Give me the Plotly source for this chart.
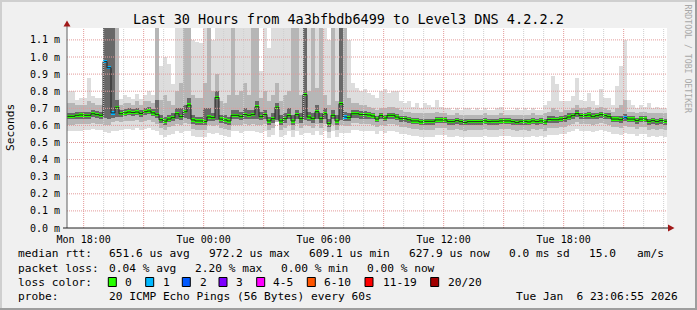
import plotly.graph_objects as go
import pandas as pd

# ---------------- data (ms), one value per 12-minute column ----------------
med = [0.653, 0.653, 0.659, 0.661, 0.659, 0.659, 0.668, 0.663, 0.659,
       0.973, 0.937, 0.673, 0.706,
       0.668, 0.673, 0.678, 0.675, 0.678, 0.670, 0.680, 0.684, 0.673,
       0.665,
       0.633, 0.625, 0.637, 0.645, 0.668, 0.651, 0.680, 0.719, 0.632, 0.626, 0.626, 0.622, 0.649, 0.645,
       0.764,
       0.637, 0.632, 0.626, 0.659, 0.659, 0.651, 0.663, 0.659, 0.663, 0.709,
       0.651, 0.663, 0.626, 0.639, 0.706, 0.626, 0.639, 0.657, 0.626, 0.663,
       0.639, 0.780, 0.649, 0.639, 0.680, 0.639, 0.668, 0.610, 0.659, 0.626,
       0.727, 0.649, 0.645, 0.668, 0.668, 0.663, 0.663,
       0.661, 0.655, 0.637, 0.657, 0.643, 0.659, 0.659, 0.649, 0.639, 0.639,
       0.633, 0.626, 0.626, 0.620, 0.624, 0.624, 0.624, 0.632, 0.632, 0.632,
       0.622, 0.622, 0.628, 0.622, 0.616, 0.622, 0.622, 0.622, 0.622, 0.626,
       0.622, 0.624, 0.624, 0.626, 0.626, 0.626, 0.622,
       0.616, 0.624, 0.624, 0.620, 0.626, 0.622, 0.626, 0.620, 0.635, 0.633,
       0.633, 0.637, 0.641, 0.649, 0.657, 0.669, 0.657, 0.657, 0.661, 0.651,
       0.657, 0.663, 0.657, 0.651, 0.637, 0.637, 0.633, 0.645, 0.637, 0.637,
       0.628, 0.637, 0.637, 0.624, 0.628, 0.622, 0.628, 0.624]

hi1 = [0.80, 0.80, 0.75, 0.76, 0.76, 0.88, 0.77, 0.76, 0.76,
       1.3, 1.3, 1.3, 1.3,
       0.755, 0.78, 0.766, 0.757, 0.785, 0.757, 0.78, 0.80, 0.78,
       1.3,
       0.95, 1.0, 0.96, 0.84, 1.3, 1.3, 1.3, 1.3, 1.1, 1.09, 1.08, 1.3, 1.3, 1.1,
       1.3,
       1.3, 1.3, 1.3, 1.3, 1.3, 1.3, 1.3, 1.3, 1.3, 1.3,
       0.92, 1.3, 1.05,
       1.3, 1.3, 1.3, 1.3, 1.3, 1.3, 1.3, 1.3, 1.3, 1.3, 1.3, 1.3, 1.3, 1.3,
       1.1, 1.3, 1.3, 1.3, 1.3, 1.1, 0.85, 0.82, 0.80, 0.81,
       0.79, 0.78, 0.76, 0.80, 0.81, 0.79, 0.80, 0.80, 0.74, 0.73,
       0.74, 0.71, 0.73, 0.70, 0.73, 0.72, 0.71, 0.75, 0.71, 0.70,
       0.70, 0.69, 0.70, 0.69, 0.70, 0.70, 0.69, 0.70, 0.69, 0.70,
       0.69, 0.69, 0.70, 0.71, 0.69, 0.69, 0.69,
       0.70, 0.69, 0.70, 0.69, 0.70, 0.69, 0.69, 0.72, 0.74, 0.89,
       0.84, 0.74, 0.74, 0.74, 0.77, 0.88, 0.75, 0.74, 0.79, 0.74,
       0.72, 0.81, 0.76, 0.76, 0.72, 0.83, 0.95, 1.10, 0.75, 0.72,
       0.70, 0.72, 0.71, 0.73, 0.70, 0.71, 0.70, 0.70]

hi2 = [0.73, 0.73, 0.72, 0.72, 0.72, 0.74, 0.73, 0.72, 0.72,
       1.3, 1.3, 1.3, 1.3,
       0.72, 0.73, 0.73, 0.72, 0.74, 0.72, 0.74, 0.74, 0.73,
       1.3,
       0.75, 0.78, 0.74, 0.72, 0.80, 0.85, 1.3, 1.3, 0.78, 0.76, 0.76, 0.85, 1.3, 0.80,
       0.90,
       0.74, 0.73, 0.78, 1.3, 0.78, 0.80, 0.85, 0.78, 1.3, 1.3,
       0.76, 0.80, 0.74, 0.78, 0.85, 0.74, 0.78, 0.80, 1.3, 1.3,
       0.78, 1.3, 0.80, 1.3, 0.82, 1.3, 0.78, 0.72, 1.3, 0.74,
       1.3, 1.3, 0.76, 0.73, 0.73, 0.72, 0.72,
       0.71, 0.70, 0.69, 0.70, 0.70, 0.71, 0.71, 0.70, 0.69, 0.68,
       0.68, 0.67, 0.67, 0.67, 0.67, 0.67, 0.67, 0.68, 0.67, 0.67,
       0.66, 0.66, 0.67, 0.66, 0.66, 0.66, 0.66, 0.66, 0.66, 0.67,
       0.66, 0.66, 0.66, 0.67, 0.66, 0.66, 0.66,
       0.66, 0.66, 0.66, 0.66, 0.67, 0.66, 0.66, 0.67, 0.68, 0.70,
       0.69, 0.68, 0.69, 0.69, 0.70, 0.72, 0.70, 0.70, 0.71, 0.69,
       0.70, 0.71, 0.70, 0.69, 0.68, 0.70, 0.72, 0.75, 0.68, 0.68,
       0.67, 0.68, 0.68, 0.67, 0.67, 0.67, 0.67, 0.67]

hi3 = [0.675, 0.675, 0.68, 0.68, 0.68, 0.68, 0.69, 0.685, 0.68,
       1.3, 1.3, 1.3, 0.75,
       0.69, 0.695, 0.70, 0.695, 0.70, 0.69, 0.70, 0.705, 0.695,
       0.75,
       0.66, 0.65, 0.66, 0.67, 0.70, 0.70, 0.72, 0.76, 0.66, 0.65, 0.65, 0.70, 0.70, 0.67,
       0.80,
       0.66, 0.66, 0.65, 0.69, 0.69, 0.68, 0.70, 0.69, 0.69, 0.74,
       0.68, 0.69, 0.65, 0.67, 0.73, 0.66, 0.67, 0.70, 0.66, 0.69,
       0.67, 1.3, 0.68, 0.67, 0.72, 0.67, 0.70, 0.64, 0.69, 0.66,
       1.3, 0.68, 0.67, 0.69, 0.69, 0.685, 0.685,
       0.68, 0.675, 0.655, 0.675, 0.66, 0.675, 0.675, 0.665, 0.655, 0.655,
       0.65, 0.645, 0.645, 0.64, 0.64, 0.64, 0.64, 0.65, 0.65, 0.65,
       0.64, 0.64, 0.645, 0.64, 0.635, 0.64, 0.64, 0.64, 0.64, 0.645,
       0.64, 0.64, 0.64, 0.645, 0.645, 0.645, 0.64,
       0.635, 0.64, 0.64, 0.64, 0.645, 0.64, 0.645, 0.64, 0.655, 0.655,
       0.65, 0.655, 0.66, 0.67, 0.675, 0.69, 0.675, 0.675, 0.68, 0.67,
       0.675, 0.68, 0.675, 0.67, 0.655, 0.655, 0.655, 0.665, 0.655, 0.655,
       0.645, 0.655, 0.655, 0.64, 0.645, 0.64, 0.645, 0.64]

lo3 = [0.635, 0.635, 0.64, 0.64, 0.64, 0.64, 0.65, 0.645, 0.64,
       0.645, 0.64, 0.645, 0.65,
       0.65, 0.655, 0.66, 0.655, 0.66, 0.65, 0.66, 0.665, 0.655,
       0.645,
       0.615, 0.605, 0.62, 0.625, 0.64, 0.63, 0.645, 0.64, 0.61, 0.605, 0.605, 0.60, 0.625, 0.625,
       0.63,
       0.615, 0.61, 0.605, 0.635, 0.635, 0.63, 0.64, 0.635, 0.64, 0.635,
       0.63, 0.64, 0.605, 0.615, 0.63, 0.605, 0.615, 0.635, 0.605, 0.64,
       0.615, 0.63, 0.625, 0.615, 0.64, 0.615, 0.64, 0.59, 0.635, 0.605,
       0.63, 0.625, 0.625, 0.645, 0.645, 0.64, 0.64,
       0.64, 0.635, 0.62, 0.635, 0.625, 0.64, 0.64, 0.63, 0.62, 0.62,
       0.615, 0.61, 0.61, 0.60, 0.605, 0.605, 0.605, 0.615, 0.615, 0.615,
       0.605, 0.605, 0.61, 0.605, 0.60, 0.605, 0.605, 0.605, 0.605, 0.61,
       0.605, 0.605, 0.605, 0.61, 0.61, 0.61, 0.605,
       0.60, 0.605, 0.605, 0.60, 0.61, 0.605, 0.61, 0.60, 0.615, 0.615,
       0.615, 0.62, 0.62, 0.63, 0.64, 0.65, 0.64, 0.64, 0.64, 0.635,
       0.64, 0.645, 0.64, 0.635, 0.62, 0.62, 0.615, 0.625, 0.62, 0.62,
       0.61, 0.62, 0.62, 0.605, 0.61, 0.605, 0.61, 0.605]

lo2 = [0.605, 0.605, 0.61, 0.61, 0.61, 0.61, 0.615, 0.61, 0.61,
       0.60, 0.60, 0.62, 0.625,
       0.62, 0.625, 0.625, 0.625, 0.63, 0.62, 0.625, 0.63, 0.62,
       0.61,
       0.585, 0.575, 0.59, 0.595, 0.61, 0.60, 0.615, 0.61, 0.58, 0.575, 0.575, 0.575, 0.60, 0.595,
       0.60,
       0.585, 0.58, 0.575, 0.605, 0.605, 0.60, 0.61, 0.605, 0.61, 0.605,
       0.60, 0.61, 0.575, 0.585, 0.62, 0.575, 0.585, 0.605, 0.575, 0.61,
       0.585, 0.60, 0.595, 0.585, 0.61, 0.585, 0.61, 0.56, 0.605, 0.575,
       0.60, 0.595, 0.595, 0.615, 0.615, 0.61, 0.61,
       0.61, 0.605, 0.59, 0.605, 0.595, 0.61, 0.61, 0.60, 0.59, 0.59,
       0.585, 0.58, 0.58, 0.575, 0.575, 0.575, 0.575, 0.585, 0.585, 0.585,
       0.575, 0.575, 0.58, 0.575, 0.57, 0.575, 0.575, 0.575, 0.575, 0.58,
       0.575, 0.575, 0.575, 0.58, 0.58, 0.58, 0.575,
       0.57, 0.575, 0.575, 0.57, 0.58, 0.575, 0.58, 0.57, 0.585, 0.585,
       0.585, 0.59, 0.59, 0.60, 0.61, 0.62, 0.61, 0.61, 0.61, 0.60,
       0.61, 0.615, 0.61, 0.60, 0.59, 0.59, 0.585, 0.595, 0.59, 0.59,
       0.58, 0.59, 0.59, 0.575, 0.58, 0.575, 0.58, 0.575]

lo1 = [0.565, 0.565, 0.57, 0.57, 0.575, 0.575, 0.58, 0.575, 0.575,
       0.56, 0.555, 0.565, 0.57,
       0.575, 0.58, 0.58, 0.575, 0.585, 0.575, 0.58, 0.585, 0.575,
       0.565,
       0.545, 0.535, 0.545, 0.55, 0.565, 0.555, 0.57, 0.565, 0.54, 0.535, 0.535, 0.535, 0.555, 0.55,
       0.555,
       0.545, 0.54, 0.535, 0.565, 0.565, 0.555, 0.57, 0.565, 0.57, 0.56,
       0.555, 0.57, 0.535, 0.545, 0.62, 0.535, 0.545, 0.565, 0.535, 0.57,
       0.545, 0.555, 0.555, 0.545, 0.57, 0.545, 0.57, 0.525, 0.565, 0.535,
       0.555, 0.555, 0.555, 0.575, 0.575, 0.57, 0.57,
       0.57, 0.565, 0.55, 0.565, 0.555, 0.57, 0.57, 0.56, 0.55, 0.55,
       0.545, 0.54, 0.54, 0.535, 0.535, 0.535, 0.535, 0.545, 0.545, 0.545,
       0.535, 0.535, 0.54, 0.535, 0.53, 0.535, 0.535, 0.535, 0.535, 0.54,
       0.535, 0.535, 0.535, 0.54, 0.54, 0.54, 0.535,
       0.53, 0.535, 0.535, 0.53, 0.54, 0.535, 0.54, 0.53, 0.545, 0.545,
       0.545, 0.55, 0.55, 0.56, 0.57, 0.58, 0.57, 0.57, 0.57, 0.56,
       0.57, 0.575, 0.57, 0.56, 0.55, 0.55, 0.545, 0.555, 0.55, 0.55,
       0.54, 0.55, 0.55, 0.535, 0.54, 0.535, 0.54, 0.535]

lost = [0] * 150
for i in (9, 10, 11, 69, 139):
    lost[i] = 1

loss_labels = ["0", "1", "2", "3", "4-5", "6-10", "11-19", "20/20"]
loss_colors = ["#26ff00", "#00b8ff", "#0059ff", "#7e00ff", "#ff00ff", "#ff5500", "#ff0000", "#a10000"]

y_ticks = [0.0, 0.1, 0.2, 0.3, 0.4, 0.5, 0.6, 0.7, 0.8, 0.9, 1.0, 1.1]
x_tick_times = ["2026-01-05 18:00", "2026-01-06 00:00", "2026-01-06 06:00",
                "2026-01-06 12:00", "2026-01-06 18:00"]
x_tick_text = ["Mon 18:00", "Tue 00:00", "Tue 06:00", "Tue 12:00", "Tue 18:00"]

N = len(med)
for arr in (hi1, hi2, hi3, lo3, lo2, lo1):
    assert len(arr) == N, len(arr)

# ---------------- figure ----------------
start = pd.Timestamp("2026-01-05 17:10:00")
step = pd.Timedelta(minutes=12)
times = [start + i * step for i in range(N)]
W = step.total_seconds() * 1000.0
end = start + N * step

PL, PR, PT, PB = 67, 667, 28, 228
YMAX = 200 / 171.0
MONO = "DejaVu Sans Mono"
BG = "#f0f0f0"


def fx(px):
    return (px - PL) / (PR - PL)


def fy(py):
    return (PB - py) / (PB - PT)


fig = go.Figure()

for lo, hi, c in [(lo1, hi1, "#dddddd"), (lo2, hi2, "#b6b6b6"), (lo3, hi3, "#686868")]:
    fig.add_trace(go.Bar(
        x=times, base=lo, y=[h - l for h, l in zip(hi, lo)], width=W, offset=0,
        marker=dict(color=c, line=dict(width=0)), hoverinfo="skip", showlegend=False))

fig.add_trace(go.Scatter(
    x=times + [end], y=med + [med[-1]], mode="lines",
    line=dict(color="#202020", width=1, shape="hv"), hoverinfo="skip", showlegend=False))

band = 0.02
fig.add_trace(go.Bar(
    x=times, base=[m - band / 2 for m in med], y=[band] * N, width=W, offset=0,
    marker=dict(color=[loss_colors[l] for l in lost], line=dict(width=0)),
    hoverinfo="skip", showlegend=False))

shapes = []
# grid (drawn over the smoke, like rrdtool)
t = pd.Timestamp("2026-01-05 18:00")
while t < end:
    major = (t.hour % 3 == 0)
    shapes.append(dict(type="line", xref="x", yref="paper", x0=t, x1=t, y0=0, y1=1,
                       line=dict(color="#e39a9a" if major else "#cfcfcf", width=1, dash="1px,1px"),
                       layer="above"))
    t += pd.Timedelta(hours=1)
for v in y_ticks[1:]:
    shapes.append(dict(type="line", xref="paper", yref="y", x0=0, x1=1, y0=v, y1=v,
                       line=dict(color="#e39a9a", width=1, dash="1px,1px"), layer="above"))

# axes and arrows
shapes.append(dict(type="line", xref="paper", yref="paper", x0=fx(PL), x1=fx(PL), y0=0, y1=fy(25),
                   line=dict(color="#606060", width=1), layer="above"))
shapes.append(dict(type="line", xref="paper", yref="paper", x0=fx(63), x1=fx(669), y0=0, y1=0,
                   line=dict(color="#202020", width=1), layer="above"))
shapes.append(dict(type="path", xref="paper", yref="paper",
                   path=f"M {fx(63.5)},{fy(26.5)} L {fx(67)},{fy(20.5)} L {fx(70.5)},{fy(26.5)} Z",
                   fillcolor="#a01818", line=dict(width=0), layer="above"))
shapes.append(dict(type="path", xref="paper", yref="paper",
                   path=f"M {fx(668)},{fy(224.5)} L {fx(674.5)},{fy(228)} L {fx(668)},{fy(231.5)} Z",
                   fillcolor="#a01818", line=dict(width=0), layer="above"))

# frame of the image
shapes += [
    dict(type="rect", xref="paper", yref="paper", x0=fx(0), x1=fx(697), y0=fy(0), y1=fy(2),
         fillcolor="#cfcfcf", line=dict(width=0)),
    dict(type="rect", xref="paper", yref="paper", x0=fx(0), x1=fx(2), y0=fy(0), y1=fy(310),
         fillcolor="#cfcfcf", line=dict(width=0)),
    dict(type="rect", xref="paper", yref="paper", x0=fx(0), x1=fx(697), y0=fy(308), y1=fy(310),
         fillcolor="#9e9e9e", line=dict(width=0)),
    dict(type="rect", xref="paper", yref="paper", x0=fx(695), x1=fx(697), y0=fy(0), y1=fy(310),
         fillcolor="#9e9e9e", line=dict(width=0)),
]

annotations = []


def txt(s, x, y, size=11.2, anchor="left", color="#000000", angle=0):
    annotations.append(dict(text=s, xref="paper", yref="paper", x=fx(x), y=fy(y),
                            xanchor=anchor, yanchor="middle", showarrow=False, textangle=angle,
                            font=dict(family=MONO, size=size, color=color)))


txt("Last 30 Hours from 4a3bfbdb6499 to Level3 DNS 4.2.2.2", 348.5, 19, size=13.5, anchor="center")
txt("Seconds", 10, 128, size=11.2, anchor="center", angle=-90)
txt("RRDTOOL / TOBI OETIKER", 687.5, 59, size=8.2, anchor="center", color="#a8a8a8", angle=90)

L1, L2, L3, L4 = 254, 268, 282, 296
txt("median rtt:", 16, L1)
for s, x in [("651.6 us avg", 107.3), ("972.2 us max", 207.3), ("609.1 us min", 306.7),
             ("627.9 us now", 407.3), ("0.0 ms sd", 507.3), ("15.0", 586.7), ("am/s", 635)]:
    txt(s, x, L1)
txt("packet loss:", 16, L2)
for s, x in [("0.04 % avg", 107.3), ("2.20 % max", 193.3), ("0.00 % min", 279.3), ("0.00 % now", 365)]:
    txt(s, x, L2)
txt("loss color:", 16, L3)
box_x = [108.3, 145.7, 182.3, 219.0, 256.7, 307.3, 365.0, 430.7]
lab_x = [123.3, 160.5, 197.5, 234.0, 270.7, 321.7, 380.7, 445.7]
for lab, col, bx, lx in zip(loss_labels, loss_colors, box_x, lab_x):
    shapes.append(dict(type="rect", xref="paper", yref="paper", x0=fx(bx), x1=fx(bx + 8),
                       y0=fy(277.5), y1=fy(286.5), fillcolor=col, line=dict(color="#000000", width=1)))
    txt(lab, lx, L3)
txt("probe:", 16, L4)
txt("20 ICMP Echo Pings (56 Bytes) every 60s", 107.3, L4)
txt("Tue Jan  6 23:06:55 2026", 680, L4, anchor="right")

fig.update_layout(
    width=697, height=310, autosize=False,
    margin=dict(l=PL, r=697 - PR, t=PT, b=310 - PB, pad=0),
    paper_bgcolor=BG, plot_bgcolor="#ffffff",
    barmode="overlay", bargap=0, showlegend=False,
    shapes=shapes, annotations=annotations,
    xaxis=dict(type="date", range=[start, start + pd.Timedelta(hours=30)], showgrid=False,
               zeroline=False, showline=False, fixedrange=True,
               tickmode="array", tickvals=x_tick_times, ticktext=x_tick_text,
               ticks="outside", ticklen=2, tickcolor=BG,
               tickfont=dict(family=MONO, size=10, color="#000000")),
    yaxis=dict(range=[0, YMAX], showgrid=False, zeroline=False, showline=False, fixedrange=True,
               tickmode="array", tickvals=y_ticks, ticktext=[f"{v:.1f} m" for v in y_ticks],
               ticks="outside", ticklen=4, tickcolor=BG,
               tickfont=dict(family=MONO, size=10, color="#000000")),
)

fig.write_html("out.html")
